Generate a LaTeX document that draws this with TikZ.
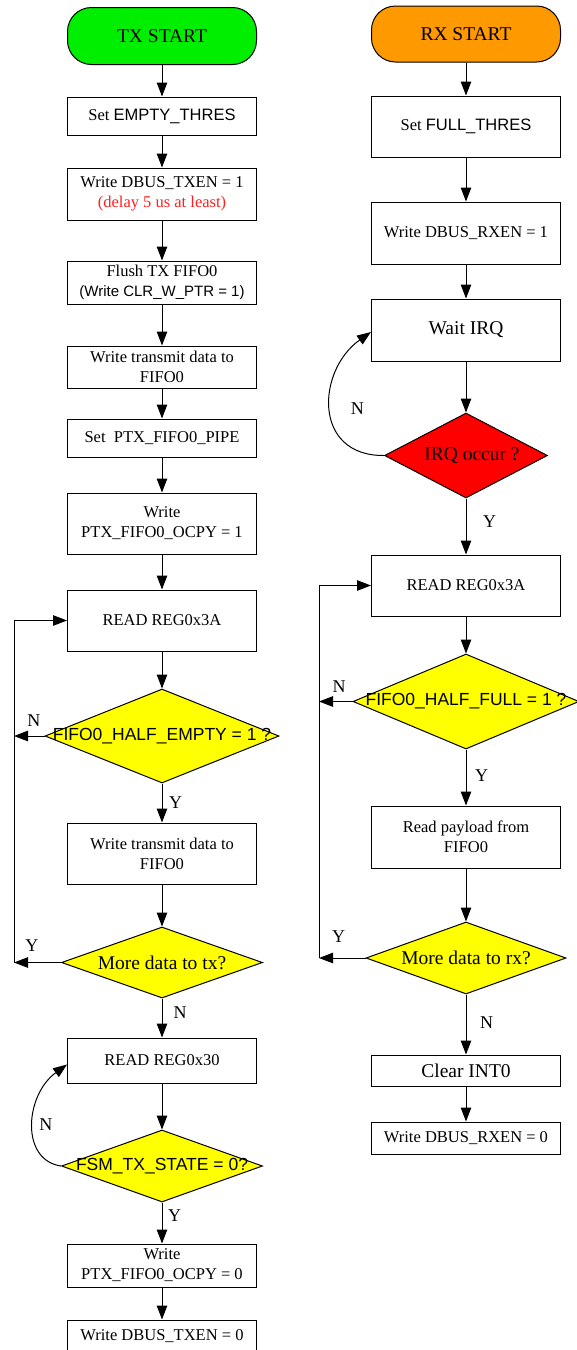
\documentclass[tikz,border=0pt]{standalone}
\usepackage{fontspec}
\setmainfont{Liberation Serif}
\newfontfamily\arialfont{Liberation Sans}
\usetikzlibrary{shapes.geometric}
\usetikzlibrary{arrows.meta}
\definecolor{startgreen}{RGB}{0,238,0}
\definecolor{startorange}{RGB}{255,153,0}
\definecolor{irqred}{RGB}{255,0,0}
\definecolor{askyellow}{RGB}{255,255,0}
\definecolor{notered}{RGB}{255,32,32}
\newcommand{\sans}[1]{{\arialfont #1}}
\tikzset{
  flow/.style={draw,line width=1pt,-{Triangle[length=14pt,width=10.5pt]}},
  rail/.style={draw,line width=1pt},
  boxtxt/.style={font=\fontsize{16.5}{20}\selectfont},
  bigtxt/.style={font=\fontsize{19.5}{23}\selectfont},
  asktxt/.style={font=\arialfont\fontsize{17.5}{21}\selectfont},
  stepbox/.style={draw,line width=1pt,rectangle,minimum width=189pt,inner sep=0pt,align=center,boxtxt},
  startbox/.style={stepbox,rounded corners=24pt,bigtxt},
  ask/.style={draw,line width=1pt,diamond,inner sep=0pt,fill=askyellow},
  yn/.style={font=\fontsize{18}{20}\selectfont,inner sep=2pt},
}

\begin{document}
\begin{tikzpicture}[x=1pt,y=-1pt]
    \useasboundingbox (0,0) rectangle (577,1350);

    % TX side
    \node[startbox,fill=startgreen,minimum height=57pt] (txstart) at (162,36) {TX START};
    \node[stepbox,minimum height=38pt] (setempty) at (162,116) {Set \sans{EMPTY\_THRES}};
    \node[stepbox,minimum height=52pt] (wrtxen) at (162,194) {Write DBUS\_TXEN = 1\\\textcolor{notered}{(delay 5 us at least)}};
    \node[stepbox,minimum height=43pt] (flush) at (162,282.5) {Flush TX FIFO0\\{\arialfont\fontsize{15}{18}\selectfont (Write CLR\_W\_PTR = 1)}};
    \node[stepbox,minimum height=42pt] (wrdata) at (162,367) {Write transmit data to\\FIFO0};
    \node[stepbox,minimum height=38pt] (setpipe) at (162,438) {Set\ \ PTX\_FIFO0\_PIPE};
    \node[stepbox,minimum height=61pt] (wrocpy) at (162,523.5) {Write\\PTX\_FIFO0\_OCPY = 1};
    \node[stepbox,minimum height=61pt] (readtx) at (162,620.5) {READ REG0x3A};
    \node[ask,minimum width=234pt,minimum height=94pt,
          label={[asktxt]center:{FIFO0\_HALF\_EMPTY = 1 ?}}] (halfempty) at (162,736) {};
    \node[stepbox,minimum height=61pt] (wrdata2) at (162,853.5) {Write transmit data to\\FIFO0};
    \node[ask,minimum width=201pt,minimum height=71pt,
          label={[bigtxt]center:{More data to tx?}}] (moretx) at (162,962.5) {};
    \node[stepbox,minimum height=45pt] (read30) at (162,1060.5) {READ REG0x30};
    \node[ask,minimum width=201pt,minimum height=72pt,
          label={[asktxt]center:{FSM\_TX\_STATE = 0?}}] (fsm) at (162,1166) {};
    \node[stepbox,minimum height=43pt] (wrocpy0) at (162,1265.5) {Write\\PTX\_FIFO0\_OCPY = 0};
    \node[stepbox,minimum height=32pt] (wrtxen0) at (162,1336) {Write DBUS\_TXEN = 0};

    % RX side
    \node[startbox,fill=startorange,minimum height=56pt] (rxstart) at (466,34) {RX START};
    \node[stepbox,minimum height=61pt] (setfull) at (466,126.5) {Set \sans{FULL\_THRES}};
    \node[stepbox,minimum height=62pt] (wrrxen) at (466,233) {Write DBUS\_RXEN = 1};
    \node[stepbox,bigtxt,minimum height=62pt] (waitirq) at (466,330) {Wait IRQ};
    \node[ask,fill=irqred,minimum width=163pt,minimum height=85pt,
          label={[bigtxt,xshift=6pt]center:{IRQ occur ?}}] (irq) at (466,455.5) {};
    \node[stepbox,minimum height=61pt] (readrx) at (466,585.5) {READ REG0x3A};
    \node[ask,minimum width=226pt,minimum height=95pt,
          label={[asktxt]center:{FIFO0\_HALF\_FULL = 1 ?}}] (halffull) at (466,701.5) {};
    \node[stepbox,minimum height=62pt] (readpay) at (466,837) {Read payload from\\FIFO0};
    \node[ask,minimum width=200pt,minimum height=72pt,
          label={[bigtxt]center:{More data to rx?}}] (morerx) at (466,958) {};
    \node[stepbox,bigtxt,minimum height=31pt] (clearint) at (466,1070.5) {Clear INT0};
    \node[stepbox,minimum height=32pt] (wrrxen0) at (466,1138) {Write DBUS\_RXEN = 0};

    % straight flow
    \foreach \a/\b in {txstart/setempty,setempty/wrtxen,wrtxen/flush,flush/wrdata,
                       wrdata/setpipe,setpipe/wrocpy,wrocpy/readtx,readtx/halfempty,
                       wrdata2/moretx,read30/fsm,wrocpy0/wrtxen0,
                       rxstart/setfull,setfull/wrrxen,wrrxen/waitirq,waitirq/irq,
                       readrx/halffull,readpay/morerx,clearint/wrrxen0}
      \draw[flow] (\a) -- (\b);

    \draw[flow] (halfempty) -- node[yn,pos=.5,right=4.5pt]{Y} (wrdata2);
    \draw[flow] (moretx) -- node[yn,pos=.37,right=9pt]{N} (read30);
    \draw[flow] (fsm) -- node[yn,pos=.33,right=3.5pt]{Y} (wrocpy0);
    \draw[flow] (irq) -- node[yn,pos=.42,right=14.5pt]{Y} (readrx);
    \draw[flow] (halffull) -- node[yn,pos=.46,right=6.5pt]{Y} (readpay);
    \draw[flow] (morerx) -- node[yn,pos=.46,right=11.5pt]{N} (clearint);

    % loops back
    \coordinate (txrail) at (14,0);
    \coordinate (rxrail) at (319,0);
    \draw[rail] (moretx.west -| txrail) -- (readtx.west -| txrail);
    \draw[flow] (readtx.west -| txrail) -- (readtx.west);
    \draw[flow] (halfempty.west) -- node[yn,pos=.35,above=7pt]{N} (halfempty.west -| txrail);
    \draw[flow] (moretx.west) -- node[yn,pos=.62,above=9pt]{Y} (moretx.west -| txrail);

    \draw[rail] (morerx.west -| rxrail) -- (readrx.west -| rxrail);
    \draw[flow] (readrx.west -| rxrail) -- (readrx.west);
    \draw[flow] (halffull.west) -- node[yn,pos=.4,above=7pt]{N} (halffull.west -| rxrail);
    \draw[flow] (morerx.west) -- node[yn,pos=.58,above=13pt]{Y} (morerx.west -| rxrail);

    \draw[flow] (irq.west) .. controls (312,456) and (317,370) .. node[yn,right=18pt]{N} ([yshift=-2pt]waitirq.west);
    \draw[flow] (fsm.west) .. controls (20,1160) and (25,1095) .. node[yn,right=4pt]{N} ([yshift=-4pt]read30.west);
\end{tikzpicture}
\end{document}
